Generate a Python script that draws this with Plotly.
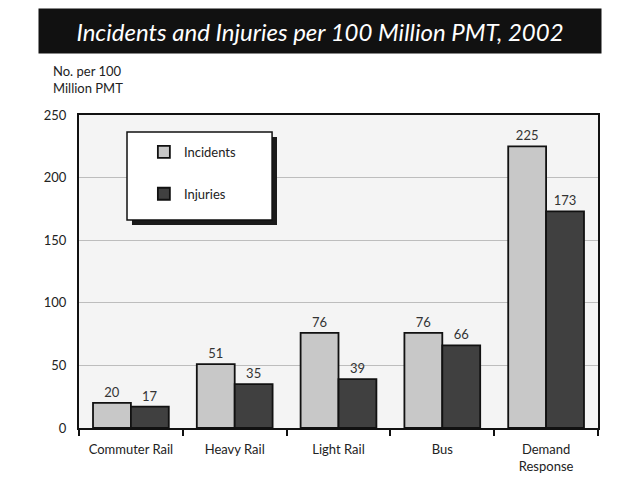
"""
Incidents and Injuries per 100 Million PMT, 2002
"""

import plotly.graph_objects as go

categories = ["Commuter Rail", "Heavy Rail", "Light Rail", "Bus", "Demand<br>Response"]
incidents = [20, 51, 76, 76, 225]
injuries = [17, 35, 39, 66, 173]
y_ticks = [0, 50, 100, 150, 200, 250]

FONT = "Lato"

fig = go.Figure()

# =======================================
# Bars
# =======================================

fig.add_trace(
    go.Bar(
        x=categories,
        y=incidents,
        name="Incidents",
        legendgroup="a",
        marker=dict(color="#c8c8c8", line=dict(color="#111111", width=1.8)),
        text=incidents,
        textposition="outside",
        textfont=dict(size=13, color="#333333"),
        cliponaxis=False,
    )
)

fig.add_trace(
    go.Bar(
        x=categories,
        y=injuries,
        name="Injuries",
        legendgroup="b",
        marker=dict(color="#404040", line=dict(color="#111111", width=1.8)),
        text=injuries,
        textposition="outside",
        textfont=dict(size=13, color="#333333"),
        cliponaxis=False,
    )
)

# legend box with drop shadow
shapes = [
    dict(type="rect", xref="paper", yref="paper",
         x0=0.1021, x1=0.3815, y0=0.6485, y1=0.9297,
         fillcolor="#1a1a1a", line=dict(width=0), layer="above"),
    dict(type="rect", xref="paper", yref="paper",
         x0=0.0925, x1=0.372, y0=0.6645, y1=0.9457,
         fillcolor="white", line=dict(color="#111111", width=1.5), layer="above"),
]

annotations = [
    # title bar
    dict(
        text="<i>Incidents and Injuries per 100 Million PMT, 2002</i>",
        xref="paper", yref="paper", x=0.4644, y=1.268,
        xanchor="center", yanchor="middle",
        width=560, height=42, bgcolor="#111111",
        font=dict(family=FONT, size=24, color="white"),
        showarrow=False,
    ),
    # y axis caption
    dict(
        text="No. per 100<br>Million PMT",
        xref="paper", yref="paper", x=0.017, y=1.115,
        xanchor="center", yanchor="middle", align="left",
        font=dict(family=FONT, size=13, color="#222222"),
        showarrow=False,
    ),
]

fig.update_layout(
    width=640,
    height=495,
    margin=dict(l=71, r=50, t=107, b=75),
    paper_bgcolor="white",
    plot_bgcolor="#f4f4f4",
    font=dict(family=FONT, size=13, color="#222222"),
    barmode="group",
    bargap=0.27,
    bargroupgap=0,
    shapes=shapes,
    annotations=annotations,
    showlegend=True,
    legend=dict(
        x=0.125, y=0.93, xanchor="left", yanchor="top",
        bgcolor="rgba(0,0,0,0)",
        font=dict(family=FONT, size=13, color="#222222"),
        traceorder="grouped",
        tracegroupgap=22,
    ),
)

fig.update_xaxes(
    showline=True,
    linecolor="#111111",
    linewidth=2,
    mirror=True,
    ticks="outside",
    tickson="boundaries",
    ticklen=6,
    tickwidth=2,
    tickcolor="#111111",
    showgrid=False,
    tickfont=dict(size=13),
    ticklabelstandoff=8,
)

fig.update_yaxes(
    range=[0, 250],
    tickvals=y_ticks,
    showline=True,
    linecolor="#111111",
    linewidth=2,
    mirror=True,
    ticks="",
    gridcolor="#bdbdbd",
    gridwidth=1,
    zeroline=False,
    tickfont=dict(size=13),
    ticklabelstandoff=8,
)

fig.write_html("out.html")
